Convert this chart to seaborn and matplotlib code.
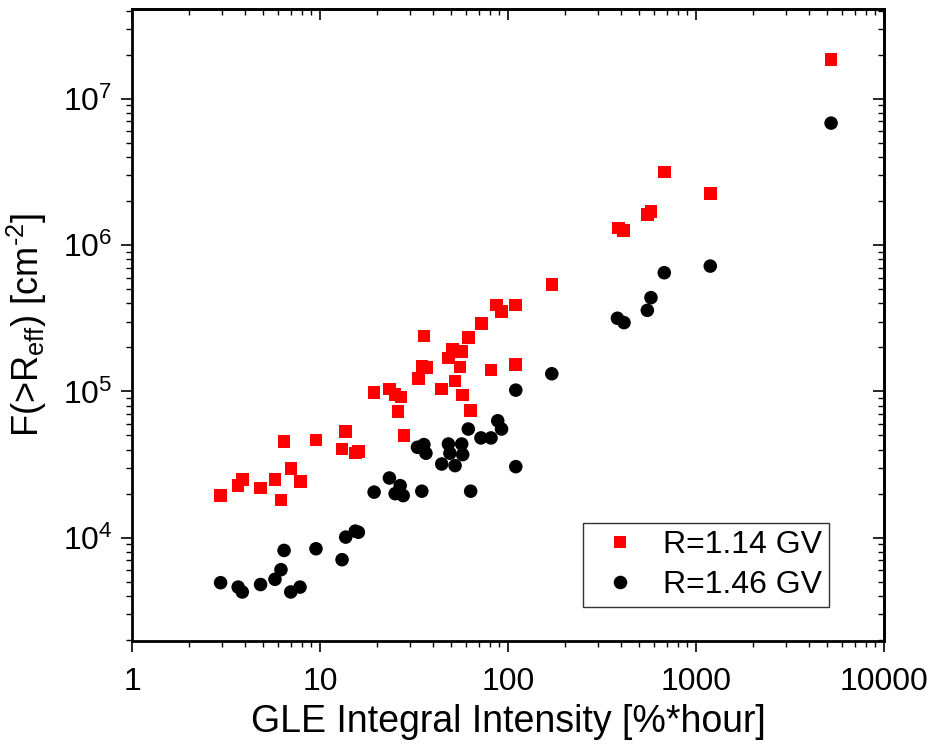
import numpy as np
import pandas as pd
import matplotlib
matplotlib.use("Agg")
import matplotlib.pyplot as plt
import seaborn as sns
from matplotlib.ticker import LogLocator, FixedLocator, FuncFormatter, NullFormatter

# ---- data ----
red_x = [2.96, 3.67, 3.86, 4.83, 5.76, 6.2, 6.44, 7.01, 7.89, 9.52, 13.1, 13.7, 15.4, 16.0,
         19.4, 23.4, 25.1, 26.0, 26.9, 28.0, 33.3, 34.8, 35.7, 36.9, 44.4, 48.1, 50.8, 52.3,
         55.6, 56.7, 57.4, 61.8, 63.3, 72.4, 81.2, 87.1, 92.4, 110, 110, 171, 386, 411, 551,
         576, 678, 1191, 5230]
red_y = [1.94e4, 2.27e4, 2.49e4, 2.18e4, 2.49e4, 1.81e4, 4.53e4, 2.98e4, 2.42e4, 4.66e4,
         4.05e4, 5.33e4, 3.79e4, 3.9e4, 9.84e4, 1.04e5, 9.5e4, 7.26e4, 9.18e4, 5.0e4, 1.22e5,
         1.49e5, 2.39e5, 1.45e5, 1.04e5, 1.69e5, 1.94e5, 1.18e5, 1.47e5, 1.87e5, 9.45e4,
         2.33e5, 7.38e4, 2.9e5, 1.4e5, 3.89e5, 3.5e5, 3.89e5, 1.53e5, 5.38e5, 1.31e6, 1.26e6,
         1.62e6, 1.7e6, 3.15e6, 2.25e6, 1.86e7]

black_x = [2.96, 3.67, 3.86, 4.83, 5.76, 6.2, 6.44, 6.99, 7.83, 9.52, 13.1, 13.7, 15.4, 16.0,
           19.4, 23.4, 25.1, 26.7, 27.7, 33.0, 34.8, 35.7, 36.6, 44.4, 48.2, 49.1, 52.3, 56.7,
           57.4, 61.5, 63.3, 71.8, 81.2, 88.2, 92.4, 110, 110, 171, 382, 414, 551, 576, 678,
           1191, 5230]
black_y = [4.93e3, 4.6e3, 4.26e3, 4.79e3, 5.2e3, 6.05e3, 8.19e3, 4.26e3, 4.6e3, 8.41e3,
           7.08e3, 1.01e4, 1.11e4, 1.09e4, 2.05e4, 2.56e4, 2.0e4, 2.27e4, 1.94e4, 4.15e4,
           2.08e4, 4.33e4, 3.78e4, 3.19e4, 4.37e4, 3.78e4, 3.11e4, 4.37e4, 3.7e4, 5.53e4,
           2.08e4, 4.81e4, 4.81e4, 6.3e4, 5.53e4, 1.02e5, 3.06e4, 1.32e5, 3.16e5, 2.95e5,
           3.58e5, 4.37e5, 6.47e5, 7.18e5, 6.81e6]

series_labels = ["R=1.14 GV", "R=1.46 GV"]
x_ticks = [1, 10, 100, 1000, 10000]

df = pd.concat([
    pd.DataFrame({"x": red_x, "y": red_y, "series": series_labels[0]}),
    pd.DataFrame({"x": black_x, "y": black_y, "series": series_labels[1]}),
], ignore_index=True)

sns.set_style("ticks")
plt.rcParams["font.family"] = ["Liberation Sans", "DejaVu Sans"]
plt.rcParams["mathtext.fontset"] = "custom"
plt.rcParams["mathtext.rm"] = "Liberation Sans"
plt.rcParams["mathtext.it"] = "Liberation Sans:italic"
plt.rcParams["mathtext.bf"] = "Liberation Sans:bold"
plt.rcParams["text.color"] = "black"
plt.rcParams["axes.labelcolor"] = "black"
plt.rcParams["xtick.color"] = "black"
plt.rcParams["ytick.color"] = "black"

fig = plt.figure(figsize=(9.31, 7.51), dpi=100)
ax = fig.add_axes([132 / 931, 1 - 641 / 751, 752 / 931, 632 / 751])

sns.scatterplot(data=df, x="x", y="y", hue="series", style="series", size="series",
                palette={series_labels[0]: "#ff0000", series_labels[1]: "#000000"},
                markers={series_labels[0]: "s", series_labels[1]: "o"},
                sizes={series_labels[0]: 82, series_labels[1]: 95},
                linewidth=0, ax=ax)

ax.set_xscale("log")
ax.set_yscale("log")
ax.set_xlim(1, 10000)
ax.set_ylim(1.97e3, 4.1e7)

ax.xaxis.set_major_locator(FixedLocator(x_ticks))
ax.xaxis.set_major_formatter(FuncFormatter(lambda v, p: f"{int(round(v))}"))
ax.xaxis.set_minor_locator(LogLocator(base=10, subs=np.arange(2, 10), numticks=20))
ax.xaxis.set_minor_formatter(NullFormatter())
ax.yaxis.set_major_locator(LogLocator(base=10, numticks=20))
ax.yaxis.set_minor_locator(LogLocator(base=10, subs=np.arange(2, 10), numticks=20))
ax.yaxis.set_minor_formatter(NullFormatter())

for sp in ax.spines.values():
    sp.set_visible(True)
    sp.set_linewidth(2.0)
    sp.set_color("black")

ax.tick_params(which="major", direction="out", length=8, width=1.2, labelsize=23,
               colors="black", labelcolor="black", pad=6)
ax.tick_params(which="minor", direction="out", length=4, width=1.0, colors="black")
ax.tick_params(axis="x", which="major", pad=11)
# mirrored ticks on top/right pointing inward
axt = ax.secondary_xaxis("top")
axt.xaxis.set_major_locator(FixedLocator(x_ticks))
axt.xaxis.set_minor_locator(LogLocator(base=10, subs=np.arange(2, 10), numticks=20))
axt.tick_params(which="major", direction="in", length=8, width=1.2, labeltop=False)
axt.tick_params(which="minor", direction="in", length=4, width=1.0, labeltop=False)
axt.spines["top"].set_linewidth(2.0)
axr = ax.secondary_yaxis("right")
axr.yaxis.set_major_locator(LogLocator(base=10, numticks=20))
axr.yaxis.set_minor_locator(LogLocator(base=10, subs=np.arange(2, 10), numticks=20))
axr.tick_params(which="major", direction="in", length=8, width=1.2, labelright=False)
axr.tick_params(which="minor", direction="in", length=4, width=1.0, labelright=False)
axr.spines["right"].set_linewidth(2.0)

ax.set_xlabel("GLE Integral Intensity [%*hour]", fontsize=27, labelpad=5, color="black")
ax.set_ylabel(r"F(>R$_{\mathrm{eff}}$) [cm$^{\text{-2}}$]", fontsize=26, labelpad=10,
              color="black")

leg = ax.legend(loc="lower right", bbox_to_anchor=(0.927, 0.054), borderaxespad=0,
                fontsize=23, frameon=True, fancybox=False, framealpha=1,
                edgecolor="#333333", handletextpad=0.4, labelspacing=0.3,
                borderpad=0.22, handlelength=1.9)
leg.get_frame().set_linewidth(1.0)
for t in leg.get_texts():
    t.set_color("black")

fig.savefig("out.png", dpi=100)
